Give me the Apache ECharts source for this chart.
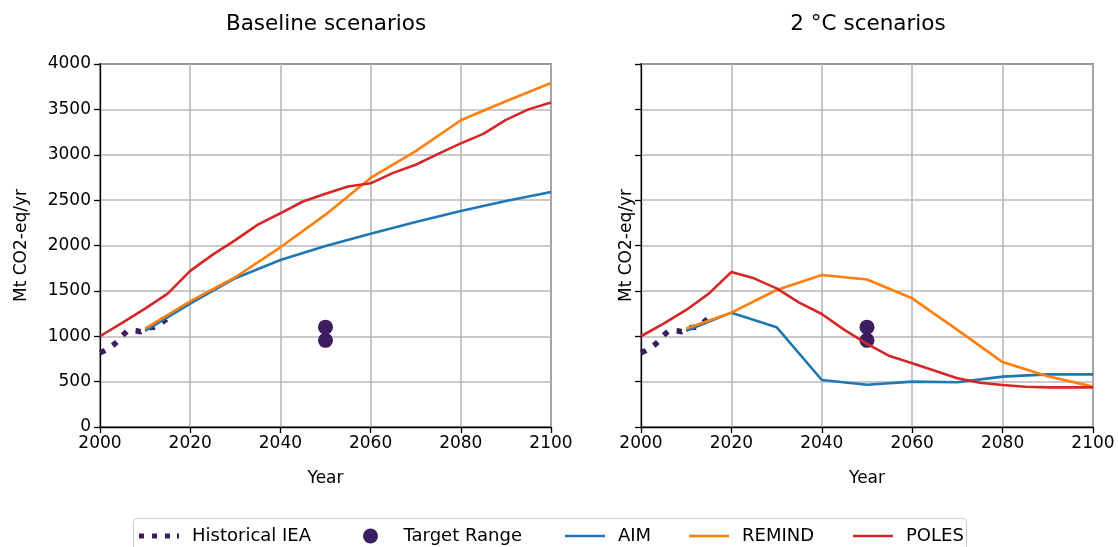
<!DOCTYPE html>
<html>
<head>
<meta charset="utf-8">
<script src="https://cdn.jsdelivr.net/npm/echarts@6/dist/echarts.min.js"></script>
<style>
  html, body { margin: 0; padding: 0; background: #fff; }
  #chart { width: 1118px; height: 547px; }
</style>
</head>
<body>
<div id="chart"></div>
<script>
// Historical emissions (IEA), Mt CO2-eq/yr
const histYears = [2000, 2001, 2002, 2003, 2004, 2005, 2006, 2007, 2008, 2009, 2010, 2011, 2012, 2013, 2014, 2015, 2016];
const histIEA   = [820, 840, 870, 905, 950, 1010, 1055, 1065, 1060, 1050, 1075, 1095, 1100, 1120, 1160, 1200, 1225];

// 2050 target range
const targetYears = [2050, 2050];
const targetRange = [955, 1100];

// Model scenario years
const decadeYears = [2010, 2020, 2030, 2040, 2050, 2060, 2070, 2080, 2090, 2100];
const polesYears  = [2000, 2005, 2010, 2015, 2020, 2025, 2030, 2035, 2040, 2045, 2050,
                     2055, 2060, 2065, 2070, 2075, 2080, 2085, 2090, 2095, 2100];

// Baseline scenarios
const aimBaseline    = [1060, 1360, 1640, 1840, 1995, 2130, 2260, 2380, 2490, 2590];
const remindBaseline = [1085, 1385, 1650, 1980, 2340, 2745, 3040, 3380, 3590, 3790];
const polesBaseline  = [1000, 1150, 1305, 1470, 1720, 1900, 2060, 2230, 2355, 2485, 2570,
                        2650, 2685, 2800, 2890, 3010, 3125, 3230, 3385, 3500, 3575];

// 2 °C scenarios
const aim2C    = [1060, 1260, 1100, 518, 465, 500, 493, 555, 580, 580];
const remind2C = [1085, 1260, 1510, 1675, 1625, 1418, 1070, 715, 560, 445];
const poles2C  = [1000, 1140, 1290, 1470, 1708, 1638, 1528, 1370, 1245, 1070, 915,
                  782, 702, 620, 537, 488, 463, 444, 437, 437, 437];

// Legend entries and their handle glyphs
const legendNames = ['Historical IEA', 'Target Range', 'AIM', 'REMIND', 'POLES'];
const legendIcons = [
  'path://M0,0h5v5h-5z M13,0h5v5h-5z M26,0h5v5h-5z M38,0h2v5h-2z',
  'circle',
  'path://M0,0H40V2.6H0Z',
  'path://M0,0H40V2.6H0Z',
  'path://M0,0H40V2.6H0Z'
];
const legendLeft = [139, 363, 565, 689, 853];

const FONT = 'DejaVu Sans';
const FS = 17;
const C_HIST = '#3b1d60';
const C_AIM = '#1f77b4';
const C_REMIND = '#ff7f0e';
const C_POLES = '#d62728';

function pairs(xs, ys) { return xs.map((x, i) => [x, ys[i]]); }
const plain = v => String(v);

function xAxisFor(gridIndex) {
  return {
    type: 'value', gridIndex, min: 2000, max: 2100, interval: 20,
    name: 'Year', nameLocation: 'middle', nameGap: 43,
    nameTextStyle: { fontFamily: FONT, fontSize: FS, color: '#000' },
    axisLine: { show: true, onZero: false, lineStyle: { color: '#000', width: 1.3 } },
    axisTick: { show: true, length: 6, lineStyle: { color: '#000', width: 1.3 } },
    axisLabel: { fontFamily: FONT, fontSize: FS, color: '#000', margin: 8, formatter: plain },
    splitLine: { show: true, lineStyle: { color: '#b9b9b9', width: 1.6 } }
  };
}

function yAxisFor(gridIndex, showLabels) {
  return {
    type: 'value', gridIndex, min: 0, max: 4000, interval: 500,
    name: 'Mt CO2-eq/yr', nameLocation: 'middle', nameGap: showLabels ? 70 : 6, nameRotate: 90,
    nameTextStyle: { fontFamily: FONT, fontSize: FS, color: '#000' },
    axisLine: { show: true, onZero: false, lineStyle: { color: '#000', width: 1.3 } },
    axisTick: { show: true, length: 6, lineStyle: { color: '#000', width: 1.3 } },
    axisLabel: { show: showLabels, fontFamily: FONT, fontSize: FS, color: '#000', margin: 9, formatter: plain },
    splitLine: { show: true, lineStyle: { color: '#b9b9b9', width: 1.6 } }
  };
}

function panelSeries(idx, aim, remind, poles) {
  return [
    {
      name: 'Historical IEA', type: 'line', xAxisIndex: idx, yAxisIndex: idx,
      data: pairs(histYears, histIEA), showSymbol: false, z: 3,
      lineStyle: { color: C_HIST, width: 5.5, type: [5.5, 9], cap: 'butt' },
      itemStyle: { color: C_HIST }
    },
    {
      name: 'Target Range', type: 'scatter', xAxisIndex: idx, yAxisIndex: idx,
      data: pairs(targetYears, targetRange), symbolSize: 15, z: 4,
      itemStyle: { color: C_HIST, opacity: 1 }
    },
    {
      name: 'AIM', type: 'line', xAxisIndex: idx, yAxisIndex: idx,
      data: pairs(decadeYears, aim), showSymbol: false, z: 5,
      lineStyle: { color: C_AIM, width: 2.6 }, itemStyle: { color: C_AIM }
    },
    {
      name: 'REMIND', type: 'line', xAxisIndex: idx, yAxisIndex: idx,
      data: pairs(decadeYears, remind), showSymbol: false, z: 6,
      lineStyle: { color: C_REMIND, width: 2.6 }, itemStyle: { color: C_REMIND }
    },
    {
      name: 'POLES', type: 'line', xAxisIndex: idx, yAxisIndex: idx,
      data: pairs(polesYears, poles), showSymbol: false, z: 7,
      lineStyle: { color: C_POLES, width: 2.6 }, itemStyle: { color: C_POLES }
    }
  ];
}

// One legend component per entry so each column sits at its own offset
const legends = legendNames.map((name, i) => ({
  left: legendLeft[i], top: 527, padding: 0,
  itemWidth: 40, itemHeight: 15,
  textStyle: { fontFamily: FONT, fontSize: 18, color: '#000', padding: [0, 0, 0, 8] },
  data: [{ name, icon: legendIcons[i] }]
}));

const chart = echarts.init(document.getElementById('chart'), null, { renderer: 'canvas' });

chart.setOption({
  animation: false,
  backgroundColor: '#fff',
  textStyle: { fontFamily: FONT },
  grid: [
    { left: 100, top: 64, width: 451, height: 363, show: true, borderColor: '#000', borderWidth: 1.3, backgroundColor: 'transparent' },
    { left: 641, top: 64, width: 452, height: 363, show: true, borderColor: '#000', borderWidth: 1.3, backgroundColor: 'transparent' }
  ],
  xAxis: [xAxisFor(0), xAxisFor(1)],
  yAxis: [yAxisFor(0, true), yAxisFor(1, false)],
  graphic: [
    { type: 'text', x: 326, y: 13, style: { text: 'Baseline scenarios', fontFamily: FONT, fontSize: 21.5, fill: '#000', textAlign: 'center' } },
    { type: 'text', x: 868, y: 13, style: { text: '2 °C scenarios', fontFamily: FONT, fontSize: 21.5, fill: '#000', textAlign: 'center' } },
    // legend frame
    { type: 'rect', z: -1, shape: { x: 133.5, y: 518.5, width: 833, height: 40, r: 4 },
      style: { fill: '#fff', stroke: '#cccccc', lineWidth: 1 } }
  ],
  legend: legends,
  series: [
    ...panelSeries(0, aimBaseline, remindBaseline, polesBaseline),
    ...panelSeries(1, aim2C, remind2C, poles2C)
  ]
});
</script>
</body>
</html>
